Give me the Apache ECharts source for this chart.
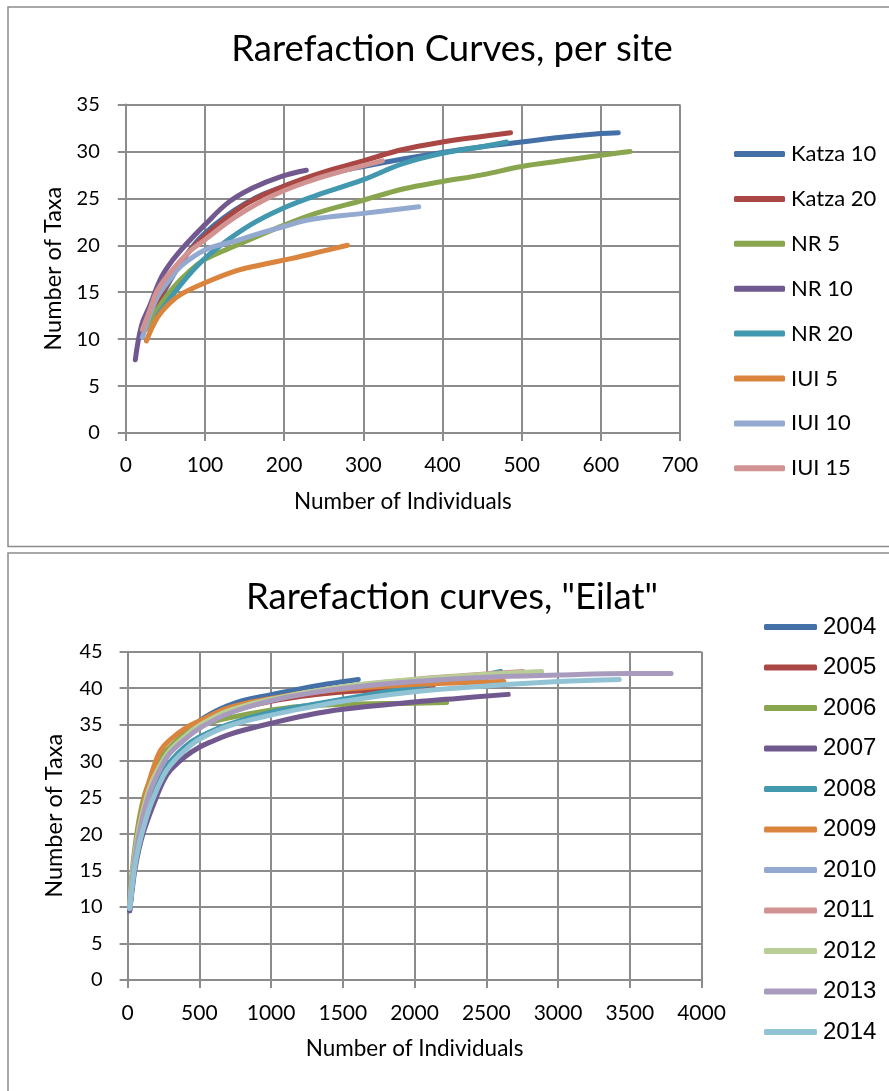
<!DOCTYPE html>
<html>
<head>
<meta charset="utf-8">
<script src="https://cdn.jsdelivr.net/npm/echarts@6/dist/echarts.min.js"></script>
<style>
html,body{margin:0;padding:0;background:#fff;}
#chart{width:889px;height:1091px;}
</style>
</head>
<body>
<div id="chart"></div>
<script>
// ---------- Top chart: Rarefaction Curves, per site ----------
const siteNames = ['Katza 10','Katza 20','NR 5','NR 10','NR 20','IUI 5','IUI 10','IUI 15'];
const katza10 = [[39,13],[50,15.3],[75,18.8],[100,21.3],[150,24.4],[200,26.3],[250,27.5],[300,28.4],[350,29.2],[400,29.9],[450,30.5],[500,31],[550,31.5],[600,31.9],[622,32]];
const katza20 = [[30,12],[50,15.5],[75,18.8],[100,21],[150,24.3],[200,26.3],[250,27.8],[300,29],[350,30.2],[400,31],[450,31.6],[486,32]];
const nr5 = [[25,11],[40,13.2],[60,15.5],[80,17.2],[100,18.5],[140,20],[190,21.8],[240,23.4],[300,24.8],[350,26],[400,26.8],[450,27.5],[500,28.4],[550,29],[600,29.6],[637,30]];
const nr10 = [[12,7.8],[20,11.5],[30,13.5],[45,16.6],[60,18.5],[75,20],[100,22.2],[130,24.6],[160,26.1],[195,27.3],[228,28]];
const nr20 = [[40,12.5],[60,14.8],[90,17.8],[120,20],[160,22.3],[200,24],[240,25.3],[300,27],[350,28.7],[400,29.8],[450,30.5],[481,31]];
const iui5 = [[26,9.8],[40,12.3],[55,13.8],[70,14.8],[100,16],[140,17.3],[170,17.9],[210,18.6],[250,19.4],[280,20]];
const iui10 = [[21,10.2],[30,12.5],[40,14.5],[55,16.3],[70,17.8],[100,19.5],[140,20.5],[170,21.3],[200,22],[230,22.7],[300,23.4],[370,24.1]];
const iui15 = [[21,11],[30,13],[40,15.2],[60,17.5],[80,19.3],[100,20.6],[140,23.1],[186,25.3],[234,26.9],[278,28],[324,29]];
const siteData = [katza10,katza20,nr5,nr10,nr20,iui5,iui10,iui15];
const siteColors = ['#4470A8','#AA4643','#89A54E','#71588F','#4198AF','#DB843D','#93A9CF','#D19392'];
const topXTicks = {min:0, max:700, interval:100};
const topYTicks = {min:0, max:35, interval:5};

// ---------- Bottom chart: Rarefaction curves, "Eilat" ----------
const yearNames = ['2004','2005','2006','2007','2008','2009','2010','2011','2012','2013','2014'];
const y2004 = [[15,9.5],[30,12.5],[50,16],[80,19.5],[120,23],[170,26],[250,29.8],[300,31.5],[400,33.7],[500,35.5],[600,36.7],[700,37.6],[800,38.3],[1000,39.1],[1200,39.9],[1400,40.6],[1608,41.2]];
const y2005 = [[15,10],[30,13.5],[50,17],[80,20.5],[120,24],[170,27],[250,30],[300,31.5],[400,33.3],[500,34.8],[700,36.7],[1000,38.2],[1300,39.1],[1600,39.6],[2000,39.95],[2131,40.05]];
const y2006 = [[15,10.5],[30,14.5],[50,18],[80,22],[120,25.5],[170,28],[250,31],[300,32],[400,33.8],[500,34.8],[700,35.9],[1000,37],[1200,37.5],[1500,37.8],[2000,37.95],[2224,38.05]];
const y2007 = [[15,9.5],[30,12],[50,15],[80,18],[110,20.2],[150,22.5],[200,25],[250,27.3],[300,28.8],[400,30.6],[500,31.9],[600,32.8],[700,33.6],[800,34.2],[1000,35.2],[1250,36.3],[1500,37.1],[2000,38.1],[2300,38.6],[2653,39.15]];
const y2008 = [[15,10],[30,13],[50,16],[80,19.5],[120,22.5],[170,25.5],[250,28.5],[300,30],[400,32],[500,33.3],[700,35],[1000,36.7],[1300,37.8],[1500,38.5],[1800,39.5],[2100,40.5],[2400,41.5],[2600,42.3]];
const y2009 = [[15,10],[30,13.5],[50,17],[80,21],[120,25],[170,28.5],[230,31.5],[300,33],[400,34.5],[500,35.5],[700,37.3],[1000,38.6],[1300,39.5],[1600,40],[2000,40.5],[2623,40.9]];
const y2010 = [[15,10],[30,13.2],[50,16.8],[80,20.2],[120,23.8],[170,26.8],[250,30],[300,31.3],[400,33.1],[500,34.6],[700,36.6],[1000,38.3],[1300,39.5],[1600,40.3],[2000,41],[2500,41.6]];
const y2011 = [[15,10],[30,13.5],[50,17],[80,20.5],[120,24],[170,27],[250,30],[300,31.5],[400,33.3],[500,34.8],[700,36.8],[1000,38.4],[1300,39.6],[1600,40.4],[2000,41.2],[2400,41.8],[2756,42.3]];
const y2012 = [[15,10.2],[30,13.8],[50,17.2],[80,20.8],[120,24.2],[170,27.2],[250,30.2],[300,31.6],[400,33.4],[500,34.9],[700,36.9],[1000,38.5],[1500,40.2],[2000,41.2],[2500,41.9],[2886,42.3]];
const y2013 = [[15,10],[30,13],[50,16.5],[80,20],[120,23.5],[170,26.5],[250,29.8],[300,31.2],[400,33],[500,34.5],[700,36.5],[1000,38.3],[1300,39.4],[1600,40.2],[2000,40.9],[2500,41.5],[3000,41.8],[3500,42],[3788,42]];
const y2014 = [[15,9.8],[30,12.5],[50,15.5],[80,18.5],[120,21.5],[170,24.5],[250,28],[300,29.5],[400,31.5],[500,33],[700,34.8],[1000,36.3],[1300,37.5],[1500,38.2],[2000,39.5],[2500,40.3],[3000,40.9],[3427,41.2]];
const yearData = [y2004,y2005,y2006,y2007,y2008,y2009,y2010,y2011,y2012,y2013,y2014];
const yearColors = ['#4470A8','#AA4643','#89A54E','#71588F','#4198AF','#DB843D','#93A9CF','#D19392','#B9CD96','#A99BBD','#92C3D5'];
const botXTicks = {min:0, max:4000, interval:500};
const botYTicks = {min:0, max:45, interval:5};

const gridColor = '#8C8C8C';
const calibri = 'Lato';

function makeX(idx, t, labelSize, margin){
  return {
    type:'value', gridIndex:idx, min:t.min, max:t.max, interval:t.interval,
    name:'Number of Individuals', nameLocation:'middle', nameGap: 57,
    nameTextStyle:{fontFamily:calibri, fontSize:22.5, color:'#000'},
    axisLine:{show:true, lineStyle:{color:gridColor, width:2}},
    axisTick:{show:true, inside:false, length:8, lineStyle:{color:gridColor, width:2}},
    axisLabel:{fontFamily:calibri, fontSize:labelSize, color:'#000', margin:margin, formatter:(v)=>String(v)},
    splitLine:{show:true, lineStyle:{color:gridColor, width:2}}
  };
}
function makeY(idx, t, nameGap, margin){
  return {
    type:'value', gridIndex:idx, min:t.min, max:t.max, interval:t.interval,
    name:'Number of Taxa', nameLocation:'middle', nameGap:nameGap,
    nameTextStyle:{fontFamily:calibri, fontSize:23.5, color:'#000'},
    axisLine:{show:true, lineStyle:{color:gridColor, width:2}},
    axisTick:{show:true, inside:false, length:8, lineStyle:{color:gridColor, width:2}},
    axisLabel:{fontFamily:calibri, fontSize:20, color:'#000', margin:margin, formatter:(v)=>String(v)},
    splitLine:{show:true, lineStyle:{color:gridColor, width:2}}
  };
}

const series = [];
siteNames.forEach((n,i)=>{
  series.push({
    name:n, type:'line', xAxisIndex:0, yAxisIndex:0, data:siteData[i],
    showSymbol:false, smooth:0.4, color:siteColors[i],
    lineStyle:{width:5, color:siteColors[i], cap:'round', join:'round'}
  });
});
yearNames.forEach((n,i)=>{
  series.push({
    name:n, type:'line', xAxisIndex:1, yAxisIndex:1, data:yearData[i],
    showSymbol:false, smooth:0.4, color:yearColors[i],
    lineStyle:{width:5, color:yearColors[i], cap:'round', join:'round'}
  });
});

const chart = echarts.init(document.getElementById('chart'), null, {renderer:'canvas'});
chart.setOption({
  animation:false,
  backgroundColor:'#fff',
  graphic:[
    {type:'rect', shape:{x:8, y:7, width:900, height:539.5}, style:{fill:'none', stroke:'#8C8C8C', lineWidth:1.5}, silent:true},
    {type:'rect', shape:{x:8, y:553, width:900, height:600}, style:{fill:'none', stroke:'#8C8C8C', lineWidth:1.5}, silent:true},
    {type:'text', x:452, y:49, style:{text:'Rarefaction Curves, per site', fontFamily:calibri, fontSize:36.5, fill:'#000', align:'center', verticalAlign:'middle'}, silent:true},
    {type:'text', x:452, y:597, style:{text:'Rarefaction curves, "Eilat"', fontFamily:calibri, fontSize:36.5, fill:'#000', align:'center', verticalAlign:'middle'}, silent:true}
  ],
  grid:[
    {left:125.8, right:209, top:104.5, height:328.5, containLabel:false},
    {left:127.6, right:187.5, top:651.7, height:328.3, containLabel:false}
  ],
  xAxis:[ makeX(0, topXTicks, 21, 22), makeX(1, botXTicks, 21, 23) ],
  yAxis:[ makeY(0, topYTicks, 59, 26), makeY(1, botYTicks, 61, 25) ],
  legend:[
    {data:siteNames, orient:'vertical', left:734, top:143, padding:0, itemGap:22.9,
     icon:'roundRect', itemWidth:51, itemHeight:6, itemStyle:{borderWidth:0},
     textStyle:{fontFamily:calibri, fontSize:22, lineHeight:22, color:'#000', padding:[0,0,0,1]}},
    {data:yearNames, orient:'vertical', left:764, top:615, padding:0, itemGap:16.5,
     icon:'roundRect', itemWidth:53, itemHeight:6, itemStyle:{borderWidth:0},
     textStyle:{fontFamily:'Liberation Sans', fontSize:24, lineHeight:24, color:'#000', padding:[0,0,0,1]}}
  ],
  series:series
});
</script>
</body>
</html>
